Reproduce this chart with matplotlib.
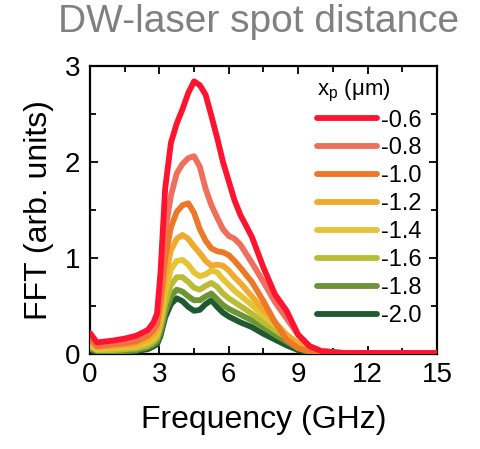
import matplotlib
matplotlib.use("Agg")
import matplotlib.pyplot as plt
from matplotlib.ticker import MultipleLocator

plt.rcParams['font.family'] = ['Liberation Sans', 'DejaVu Sans']
plt.rcParams['mathtext.default'] = 'regular'

# Frequency axis (GHz)
freq = [0, 0.3, 1, 1.5, 2, 2.5, 2.75, 2.9, 3.05, 3.25, 3.5, 3.75, 4.0, 4.25,
        4.5, 4.75, 5.0, 5.25, 5.5, 5.75, 6.0, 6.25, 6.5, 7.0, 7.5, 8.0, 8.5,
        9.0, 9.5, 10.0, 10.5, 11, 12, 13, 14, 15]

# FFT amplitude for each DW-laser spot distance x_p (um)
fft_m06 = [0.22, 0.12, 0.14, 0.16, 0.19, 0.25, 0.33, 0.42, 0.85, 1.72, 2.20,
           2.40, 2.55, 2.72, 2.84, 2.80, 2.70, 2.48, 2.25, 2.00, 1.80, 1.60,
           1.45, 1.22, 0.90, 0.62, 0.45, 0.20, 0.08, 0.03, 0.02, 0.01, 0.01,
           0.01, 0.01, 0.01]
fft_m08 = [0.19, 0.10, 0.12, 0.13, 0.16, 0.22, 0.28, 0.36, 0.68, 1.28, 1.65,
           1.88, 1.98, 2.04, 2.06, 1.95, 1.72, 1.55, 1.42, 1.30, 1.23, 1.20,
           1.14, 0.95, 0.75, 0.54, 0.37, 0.20, 0.08, 0.03, 0.02, 0.01, 0.01,
           0.01, 0.01, 0.01]
fft_m10 = [0.16, 0.08, 0.10, 0.11, 0.13, 0.19, 0.25, 0.31, 0.55, 1.00, 1.32,
           1.48, 1.55, 1.57, 1.47, 1.30, 1.18, 1.10, 1.07, 1.06, 1.03, 0.97,
           0.90, 0.75, 0.55, 0.33, 0.15, 0.06, 0.03, 0.01, 0.01, 0.01, 0.01,
           0.01, 0.01, 0.01]
fft_m12 = [0.13, 0.07, 0.08, 0.09, 0.10, 0.15, 0.20, 0.26, 0.44, 0.80, 1.08,
           1.20, 1.24, 1.20, 1.12, 1.05, 0.97, 0.92, 0.93, 0.92, 0.87, 0.80,
           0.74, 0.60, 0.46, 0.33, 0.20, 0.11, 0.04, 0.01, 0.01, 0.01, 0.01,
           0.01, 0.01, 0.01]
fft_m14 = [0.10, 0.05, 0.06, 0.07, 0.08, 0.12, 0.16, 0.21, 0.36, 0.65, 0.88,
           0.97, 0.98, 0.93, 0.85, 0.81, 0.83, 0.87, 0.85, 0.78, 0.72, 0.66,
           0.61, 0.51, 0.40, 0.30, 0.20, 0.10, 0.04, 0.01, 0.01, 0.01, 0.01,
           0.01, 0.01, 0.01]
fft_m16 = [0.08, 0.04, 0.04, 0.05, 0.06, 0.09, 0.13, 0.17, 0.29, 0.52, 0.72,
           0.80, 0.80, 0.75, 0.69, 0.67, 0.71, 0.74, 0.70, 0.63, 0.58, 0.54,
           0.50, 0.42, 0.33, 0.25, 0.17, 0.09, 0.03, 0.01, 0.01, 0.01, 0.01,
           0.01, 0.01, 0.01]
fft_m18 = [0.06, 0.03, 0.03, 0.03, 0.04, 0.07, 0.10, 0.13, 0.23, 0.43, 0.60,
           0.67, 0.65, 0.60, 0.56, 0.56, 0.60, 0.63, 0.57, 0.51, 0.47, 0.44,
           0.41, 0.35, 0.28, 0.20, 0.13, 0.06, 0.02, 0.01, 0.01, 0.01, 0.01,
           0.01, 0.01, 0.01]
fft_m20 = [0.04, 0.02, 0.02, 0.02, 0.03, 0.05, 0.08, 0.10, 0.19, 0.38, 0.52,
           0.58, 0.55, 0.49, 0.45, 0.46, 0.52, 0.56, 0.49, 0.43, 0.39, 0.36,
           0.33, 0.28, 0.21, 0.15, 0.09, 0.04, 0.02, 0.01, 0.01, 0.01, 0.01,
           0.01, 0.01, 0.01]

labels = ['-0.6', '-0.8', '-1.0', '-1.2', '-1.4', '-1.6', '-1.8', '-2.0']
series = [fft_m06, fft_m08, fft_m10, fft_m12, fft_m14, fft_m16, fft_m18, fft_m20]
colors = ['#FF1430', '#F06E5C', '#EC7828', '#F2AA2C', '#E6C433', '#B9BD36',
          '#6E9535', '#1E5A30']

fig = plt.figure(figsize=(4.81, 4.49), dpi=100)
ax = fig.add_axes([0.187, 0.2116, 0.7215, 0.6414])

n = len(series)
for i, (vals, lab, col) in enumerate(zip(series, labels, colors)):
    ax.plot(freq, vals, color=col, lw=4.2, label=lab,
            solid_joinstyle='round', solid_capstyle='round', zorder=3 + n - i)

ax.set_xlim(0, 15)
ax.set_ylim(0, 3)
ax.xaxis.set_major_locator(MultipleLocator(3))
ax.xaxis.set_minor_locator(MultipleLocator(1.5))
ax.yaxis.set_major_locator(MultipleLocator(1))
ax.yaxis.set_minor_locator(MultipleLocator(0.5))
ax.tick_params(which='both', direction='in', top=True, right=True,
               width=1.3, labelsize=20)
ax.tick_params(which='major', length=6)
ax.tick_params(which='minor', length=4)
ax.tick_params(axis='x', pad=6)
ax.tick_params(axis='y', pad=7)
for sp in ax.spines.values():
    sp.set_linewidth(1.6)

ax.set_xlabel('Frequency (GHz)', fontsize=23, labelpad=12)
ax.set_ylabel('FFT (arb. units)', fontsize=23, labelpad=8)

leg = ax.legend(loc='upper left', bbox_to_anchor=(0.655, 0.96), frameon=False,
                fontsize=17, title='x$_{p}$ (μm)', title_fontsize=16,
                handlelength=2.55, handletextpad=0.15, labelspacing=0.25,
                borderpad=0, borderaxespad=0)
leg._legend_box.align = 'left'

fig.text(0.538, 0.952, 'DW-laser spot distance', color='#808080',
         fontsize=28, ha='center', va='center')

fig.savefig('out.png', dpi=100)
